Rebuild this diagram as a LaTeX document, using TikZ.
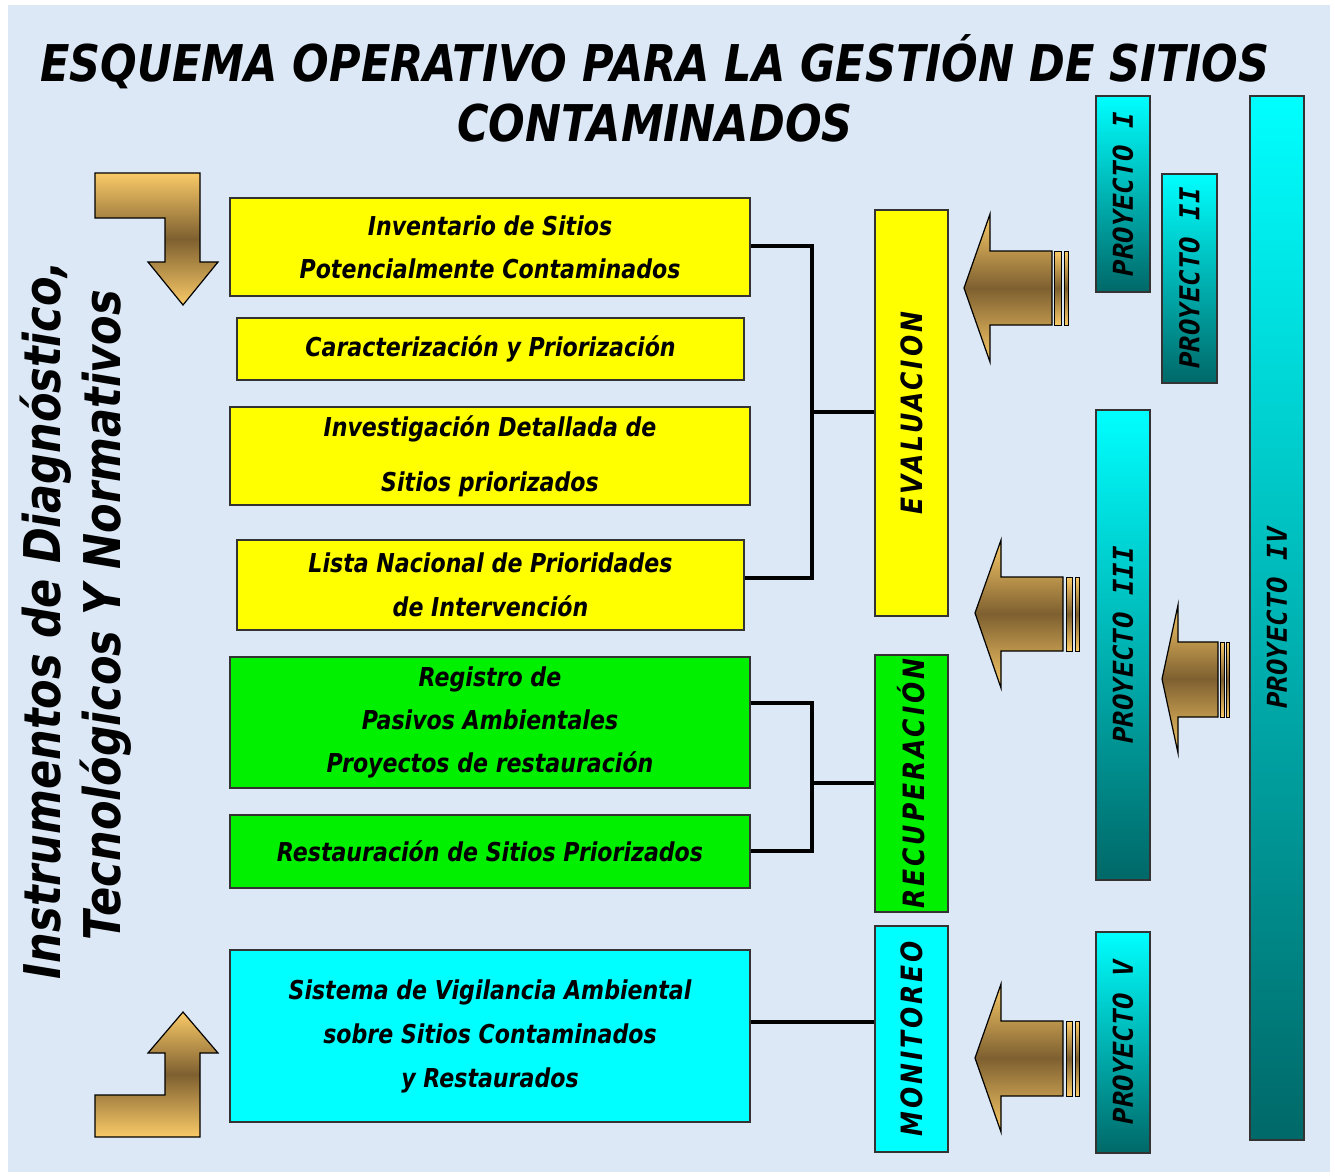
\documentclass[tikz,border=0pt]{standalone}
\usepackage{fontspec}
\setmainfont{DejaVu Sans}[FakeStretch=0.85]
\newfontfamily\monofnt{DejaVu Sans Mono}
\usetikzlibrary{fit}
\definecolor{bgblue}{RGB}{220,232,246}
\definecolor{goldL}{RGB}{250,202,104}
\definecolor{goldD}{RGB}{126,96,48}
\definecolor{aqua}{RGB}{0,255,255}
\definecolor{tealD}{RGB}{0,104,104}
\definecolor{tealM}{RGB}{0,180,180}
\definecolor{yel}{RGB}{255,255,0}
\definecolor{ygreen}{RGB}{0,240,0}
\tikzset{
  box/.style={draw=black!80, line width=0.9pt, inner sep=0pt},
  ybox/.style={box, fill=yel},
  gbox/.style={box, fill=ygreen},
  cbox/.style={box, fill=aqua},
  btext/.style={align=center, font=\bfseries\itshape\fontsize{19.5}{32}\selectfont},
  vlabel/.style={rotate=90, font=\bfseries\itshape\fontsize{22}{24}\selectfont\addfontfeature{LetterSpace=10}},
  plabel/.style={rotate=90, font=\monofnt\bfseries\itshape\fontsize{20.5}{24}\selectfont},
  conn/.style={line width=3pt, black},
  gold/.style={draw=black, line width=0.9pt, top color=goldL, bottom color=goldL, middle color=goldD},
  stripe/.style={gold, line width=0.5pt},
  proj/.style={draw=black!80, line width=0.9pt, top color=aqua, bottom color=tealD},
}
\begin{document}
\begin{tikzpicture}[x=0.75pt,y=-0.75pt]
\useasboundingbox (0,0) rectangle (1335,1175);
\fill[white] (0,0) rectangle (1335,1175);
\fill[bgblue] (8,5) rectangle (1330,1172);

% title
\node[font=\bfseries\itshape\fontsize{38}{45}\selectfont, align=center] (title) at (655,88)
  {ESQUEMA OPERATIVO PARA LA GESTIÓN DE SITIOS\\CONTAMINADOS};

% left vertical texts
\node[rotate=90, font=\bfseries\itshape\fontsize{38}{42}\selectfont] (instr1) at (46,620) {Instrumentos de Diagnóstico,};
\node[rotate=90, font=\bfseries\itshape\fontsize{38}{42}\selectfont] (instr2) at (106,615) {Tecnológicos Y Normativos};

% bent arrows
\path[gold] (95,173) -- (200,173) -- (200,262) -- (218,262) -- (183,305) -- (148,262) -- (165,262) -- (165,218) -- (95,218) -- cycle;
\path[gold] (95,1137) -- (200,1137) -- (200,1053) -- (218,1053) -- (183,1012) -- (148,1053) -- (165,1053) -- (165,1095) -- (95,1095) -- cycle;

% left boxes
\node[ybox, fit={(230,198)(750,296)}] (b1) {};
\node[btext] at (b1.center) {Inventario de Sitios\\Potencialmente Contaminados};
\node[ybox, fit={(237,318)(744,380)}] (b2) {};
\node[btext] at (b2.center) {Caracterización y Priorización};
\node[ybox, fit={(230,407)(750,505)}] (b3) {};
\node[btext, font=\bfseries\itshape\fontsize{19.5}{41}\selectfont] at (b3.center) {Investigación Detallada de\\Sitios priorizados};
\node[ybox, fit={(237,540)(744,630)}] (b4) {};
\node[btext, font=\bfseries\itshape\fontsize{19.5}{33}\selectfont] at (b4.center) {Lista Nacional de Prioridades\\de Intervención};
\node[gbox, fit={(230,657)(750,788)}] (b5) {};
\node[btext] at (b5.center) {Registro de\\Pasivos Ambientales\\Proyectos de restauración};
\node[gbox, fit={(230,815)(750,888)}] (b6) {};
\node[btext] at (b6.center) {Restauración de Sitios Priorizados};
\node[cbox, fit={(230,950)(750,1122)}] (b7) {};
\node[btext, font=\bfseries\itshape\fontsize{19.5}{33}\selectfont] at (b7.center) {Sistema de Vigilancia Ambiental\\sobre Sitios Contaminados\\y Restaurados};

% stage boxes
\node[ybox, fit={(875,210)(948,616)}] (eval) {};
\node[vlabel] at (eval.center) {EVALUACION};
\node[gbox, fit={(875,655)(948,912)}] (recup) {};
\node[vlabel] at (recup.center) {RECUPERACIÓN};
\node[cbox, fit={(875,926)(948,1152)}] (moni) {};
\node[vlabel] at (moni.center) {MONITOREO};

% connectors
\coordinate (j1) at (812,412);
\draw[conn] (b1.east |- 0,246) -| (j1) |- (b4.east |- 0,578);
\draw[conn] (j1) -- (eval.west |- j1);
\coordinate (j2) at (812,783);
\draw[conn] (b5.east |- 0,703) -| (j2) |- (b6.east |- 0,851);
\draw[conn] (j2) -- (recup.west |- j2);
\draw[conn] (b7.east |- 0,1022) -- (moni.west |- 0,1022);

% block arrows
\path[gold] (964,288) -- (990,214) -- (990,251) -- (1052,251) -- (1052,325) -- (990,325) -- (990,362) -- cycle;
\path[stripe] (1054,251) rectangle (1061,325);
\path[stripe] (1064,251) rectangle (1068,325);

\path[gold] (975,613) -- (1001,540) -- (1001,577) -- (1063,577) -- (1063,651) -- (1001,651) -- (1001,688) -- cycle;
\path[stripe] (1066,577) rectangle (1072,651);
\path[stripe] (1075,577) rectangle (1079,651);

\path[gold] (1162,679) -- (1178,605) -- (1178,642) -- (1218,642) -- (1218,717) -- (1178,717) -- (1178,753) -- cycle;
\path[stripe] (1220,642) rectangle (1224,717);
\path[stripe] (1226,642) rectangle (1229,717);

\path[gold] (975,1058) -- (1001,984) -- (1001,1021) -- (1063,1021) -- (1063,1096) -- (1001,1096) -- (1001,1132) -- cycle;
\path[stripe] (1066,1021) rectangle (1072,1096);
\path[stripe] (1075,1021) rectangle (1079,1096);

% projects
\path[proj] (1096,96) rectangle (1150,292);
\node[plabel] (p1) at (1123,194) {PROYECTO I};
\path[proj] (1162,174) rectangle (1217,383);
\node[plabel] (p2) at (1189.5,278) {PROYECTO II};
\path[proj] (1096,410) rectangle (1150,880);
\node[plabel] (p3) at (1123,645) {PROYECTO III};
\path[proj] (1096,932) rectangle (1150,1153);
\node[plabel] (p5) at (1123,1042) {PROYECTO V};
\path[draw=black!80, line width=0.9pt, top color=aqua, bottom color=tealD, middle color=tealM] (1250,96) rectangle (1304,1140);
\node[plabel] (p4) at (1277,618) {PROYECTO IV};
\end{tikzpicture}
\end{document}
